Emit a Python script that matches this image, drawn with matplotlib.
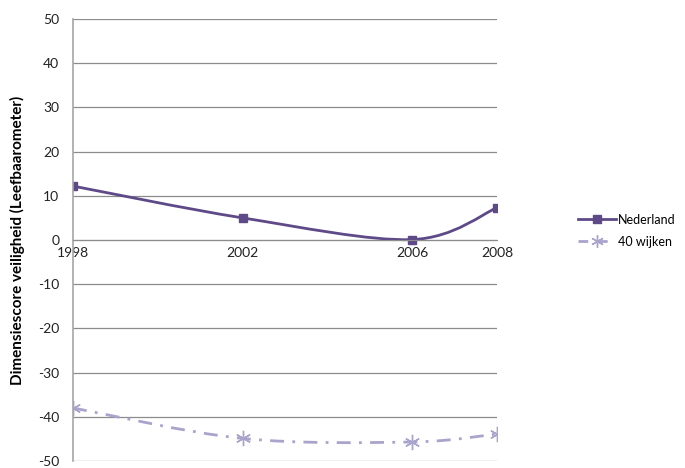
import numpy as np
import matplotlib.pyplot as plt
from matplotlib.path import Path
from matplotlib.patches import PathPatch

plt.rcParams['font.family'] = ['Lato', 'DejaVu Sans']
plt.rcParams['axes.unicode_minus'] = False

# data
years = [1998, 2002, 2006, 2008]
nederland = [12.2, 5.0, 0.1, 7.3]
wijken = [-38.0, -44.9, -45.7, -43.9]
series_names = ['Nederland', '40 wijken']
yticks = list(range(-50, 51, 10))


def smooth(xs, ys):
    # excel-achtige gladde lijn (bezier door de punten)
    xs = np.array(xs, float)
    ys = np.array(ys, float)
    verts = [(xs[0], ys[0])]
    codes = [Path.MOVETO]
    n = len(xs)
    for i in range(n - 1):
        p0 = np.array([xs[max(i - 1, 0)], ys[max(i - 1, 0)]])
        p1 = np.array([xs[i], ys[i]])
        p2 = np.array([xs[i + 1], ys[i + 1]])
        p3 = np.array([xs[min(i + 2, n - 1)], ys[min(i + 2, n - 1)]])
        c1 = p1 + (p2 - p0) / 6
        c2 = p2 - (p3 - p1) / 6
        verts += [tuple(c1), tuple(c2), tuple(p2)]
        codes += [Path.CURVE4] * 3
    return Path(verts, codes)


fig = plt.figure(figsize=(6.85, 4.68), dpi=100)
ax = fig.add_axes([0.1066, 0.015, 0.619, 0.9444])

c1 = '#5E4A88'
c2 = '#A9A4CC'

ax.add_patch(PathPatch(smooth(years, nederland), fill=False, ec=c1, lw=2))
ax.plot(years, nederland, ls='none', marker='s', ms=6, color=c1)
ax.add_patch(PathPatch(smooth(years, wijken), fill=False, ec=c2, lw=2,
                       ls=(0, (5, 3, 1, 3))))
ax.plot(years, wijken, ls='none', marker=(6, 2, 0), ms=11, mew=1, color=c2)

# legenda-items als proxies
ax.plot([], [], color=c1, lw=2, marker='s', ms=6, label=series_names[0])
ax.plot([], [], color=c2, lw=2, ls=(0, (3.5, 3.5)), marker=(6, 2, 0), ms=9,
        mew=1, label=series_names[1])

ax.set_xlim(1998, 2008)
ax.set_ylim(-50, 50)
ax.set_yticks(yticks)
ax.set_xticks(years)
ax.grid(axis='y', color='#8C8C8C', lw=0.9)
ax.set_axisbelow(True)

for s in ['top', 'right']:
    ax.spines[s].set_visible(False)
ax.spines['left'].set_color('#A6A6A6')
ax.spines['left'].set_linewidth(1.2)
ax.spines['bottom'].set_position(('data', 0))
ax.spines['bottom'].set_color('#8C8C8C')
ax.tick_params(axis='both', length=0, labelsize=10, colors='#222222')
ax.tick_params(axis='y', pad=10)
ax.tick_params(axis='x', pad=5)

ax.set_ylabel('Dimensiescore veiligheid (Leefbaarometer)', fontsize=11,
              fontweight='bold', labelpad=9)

handles, labels = ax.get_legend_handles_labels()
fig.legend(handles[-2:], labels[-2:], loc='center left',
           bbox_to_anchor=(0.828, 0.507), frameon=False, fontsize=9,
           handlelength=3.0, handletextpad=0.15, labelspacing=0.8)

fig.savefig('out.png', dpi=100)
